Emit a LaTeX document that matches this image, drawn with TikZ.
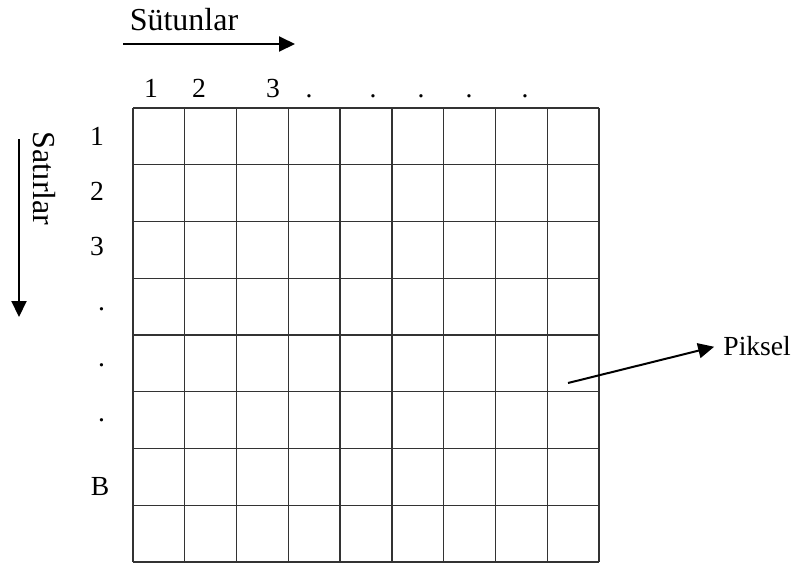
\documentclass[tikz,border=0pt]{standalone}
\usepackage{fontspec}
\setmainfont{Liberation Serif}
\usetikzlibrary{arrows.meta, positioning}

\begin{document}
\begin{tikzpicture}[x=0.5pt, y=-0.5pt,
  gridline/.style={black!80, line width=0.65pt},
  bigtxt/.style={font=\fontsize{16}{19}\selectfont, inner sep=0pt},
  smalltxt/.style={font=\fontsize{13.8}{16}\selectfont, inner sep=0pt, anchor=base},
  dirarrow/.style={-{Triangle[length=8pt,width=7.5pt]}, line width=1pt}]
\useasboundingbox (0,0) rectangle (804,564);
% pixel grid, 9 columns x 8 rows
\foreach \i in {0,...,9} \draw[gridline] ({133+51.78*\i},108)--({133+51.78*\i},562);
\foreach \j in {0,...,8} \draw[gridline] (133,{108+56.75*\j})--(599,{108+56.75*\j});
% columns
\node[bigtxt, anchor=base] (sutun) at (184,30) {Sütunlar};
\coordinate (sutunA) at (123,44);
\coordinate (sutunB) at (295,44);
\draw[dirarrow] (sutunA)--(sutunB);
\node[smalltxt] (c1) at (151,97) {1};
\node[smalltxt] (c2) at (199,97) {2};
\node[smalltxt] (c3) at (273,97) {3};
\node[smalltxt] (c4) at (309,97) {.};
\node[smalltxt] (c5) at (373,97) {.};
\node[smalltxt] (c6) at (421,97) {.};
\node[smalltxt] (c7) at (469,97) {.};
\node[smalltxt] (c8) at (525,97) {.};
% rows
\node[bigtxt, rotate=-90] (satir) at (44,178.5) {Satırlar};
\coordinate (satirA) at (19,139);
\coordinate (satirB) at (19,317);
\draw[dirarrow] (satirA)--(satirB);
\node[smalltxt] (r1) at (97,145) {1};
\node[smalltxt] (r2) at (97,200) {2};
\node[smalltxt] (r3) at (97,255) {3};
\node[smalltxt] (r4) at (101.5,310) {.};
\node[smalltxt] (r5) at (101.5,366) {.};
\node[smalltxt] (r6) at (101.5,421) {.};
\node[smalltxt] (rB) at (100,495) {B};
% pixel label
\node[smalltxt, anchor=base west, inner sep=2pt] (piksel) at (719,355) {Piksel};
\coordinate (pix) at (568,383);
\draw[dirarrow, shorten >=2.5pt] (pix)--(piksel.west);
\end{tikzpicture}
\end{document}
